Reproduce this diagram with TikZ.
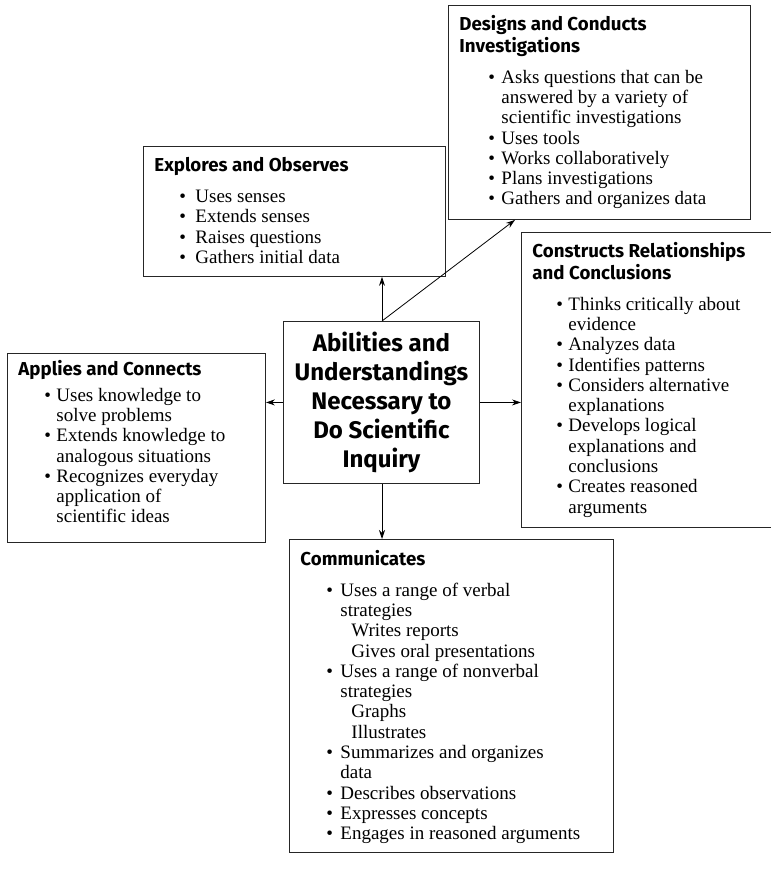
\documentclass[tikz,border=0pt]{standalone}
\usepackage{fontspec}
\setmainfont{Liberation Serif}
\newfontfamily\headfont{Fira Sans}
\usetikzlibrary{arrows.meta,calc}

\tikzset{
  box/.style={draw=black!85, line width=0.9pt, inner sep=0pt, anchor=north west},
  link/.style={line width=0.8pt, -{Stealth[length=9pt,width=6pt]}},
}

\newcommand{\headtxt}{\headfont\bfseries\fontsize{18.7}{22}\selectfont}
\newcommand{\bodytxt}{\fontsize{19}{20.3}\selectfont}
% bullet list: #1 = bullet indent, #2 = text indent
\newenvironment{blist}[2]{%
  \begin{list}{\textbullet}{%
    \setlength{\leftmargin}{#2}%
    \setlength{\labelsep}{0pt}%
    \setlength{\labelwidth}{\dimexpr#2-#1\relax}%
    \setlength{\itemindent}{0pt}%
    \setlength{\listparindent}{0pt}%
    \setlength{\topsep}{0pt}%
    \setlength{\partopsep}{0pt}%
    \setlength{\parsep}{0pt}%
    \setlength{\itemsep}{0pt}%
    \setlength{\rightmargin}{-20pt}%
    \renewcommand{\makelabel}[1]{##1\hfil}}\bodytxt}%
  {\end{list}}
% box content: width, height, top pad, heading, gap, bullet indent, text indent, items
\newcommand{\boxbody}[8]{%
  \parbox[c][#2][t]{#1}{\raggedright\parskip=0pt
    \vspace*{#3}%
    {\leftskip=11pt \headtxt\strut #4\par}%
    \vspace{#5}%
    \begin{blist}{#6}{#7}#8\end{blist}}}
\newcommand{\sub}{\hspace*{11pt}}

\begin{document}
\begin{tikzpicture}[x=1pt, y=-1pt]
\useasboundingbox (0,0) rectangle (771,873);

\node[box] (design) at (448,5) {\boxbody{282pt}{214pt}{10pt}{Designs and Conducts\\Investigations}{10pt}{40pt}{53pt}{%
  \item Asks questions that can be\\answered by a variety of\\scientific investigations
  \item Uses tools
  \item Works collaboratively
  \item Plans investigations
  \item Gathers and organizes data}};

\node[box] (explore) at (143,146) {\boxbody{282pt}{130pt}{10pt}{Explores and Observes}{10.5pt}{36pt}{52pt}{%
  \item Uses senses
  \item Extends senses
  \item Raises questions
  \item Gathers initial data}};

\node[box] (construct) at (521,232) {\boxbody{249pt}{295pt}{10pt}{Constructs Relationships\\and Conclusions}{10pt}{35pt}{47pt}{%
  \item Thinks critically about\\evidence
  \item Analyzes data
  \item Identifies patterns
  \item Considers alternative\\explanations
  \item Develops logical\\explanations and\\conclusions
  \item Creates reasoned\\arguments}};

\node[box] (apply) at (7,353) {\boxbody{238pt}{189pt}{7pt}{Applies and Connects}{5pt}{37pt}{49pt}{%
  \item Uses knowledge to\\solve problems
  \item Extends knowledge to\\analogous situations
  \item Recognizes everyday\\application of\\scientific ideas}};

\node[box] (comm) at (289,539) {\boxbody{304pt}{313pt}{11pt}{Communicates}{10pt}{37pt}{51pt}{%
  \item Uses a range of verbal\\strategies\\\sub Writes reports\\\sub Gives oral presentations
  \item Uses a range of nonverbal\\strategies\\\sub Graphs\\\sub Illustrates
  \item Summarizes and organizes\\data
  \item Describes observations
  \item Expresses concepts
  \item Engages in reasoned arguments}};

\node[box] (center) at (283,321) {\parbox[c][162pt][c]{196pt}{\centering
  \headfont\bfseries\fontsize{24}{29}\selectfont
  Abilities and\\Understandings\\Necessary to\\Do Scientific\\Inquiry}};

% connectors from the central box
\coordinate (ctop) at ($(center.north west)+(99,0)$);
\coordinate (cbot) at ($(center.south west)+(99,0)$);
\coordinate (dtip) at ($(design.south west)+(67,0)$);

\draw[link] (ctop) -- (ctop |- explore.south);
\draw[link] (ctop) -- (dtip);
\draw[link] (center.west) -- (center.west -| apply.east);
\draw[link] (center.east) -- (center.east -| construct.west);
\draw[link] (cbot) -- (cbot |- comm.north);
\end{tikzpicture}
\end{document}
